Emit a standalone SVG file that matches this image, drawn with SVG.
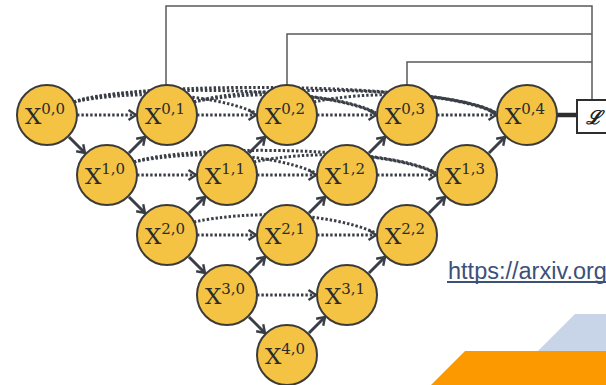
<svg xmlns="http://www.w3.org/2000/svg" width="606" height="385" viewBox="0 0 606 385">
<style>
.node circle{fill:#F5C344;stroke:#3b3b3b;stroke-width:2}
.node text{font-family:"DejaVu Serif","Liberation Serif",serif;font-size:23px;fill:#2b2b2b;text-anchor:middle}
.sup{font-size:15px}
.solid{stroke:#3a3f47;stroke-width:3;fill:none;marker-end:url(#arr)}
.dot{stroke:#3a3f47;stroke-width:3;fill:none;stroke-dasharray:2.4 2}
.dota{stroke:#3a3f47;stroke-width:3;fill:none;stroke-dasharray:2.4 2;marker-end:url(#arr)}
.fb{stroke:#5a5a5a;stroke-width:1.5;fill:none}
</style>
<defs>
<marker id="arr" markerUnits="userSpaceOnUse" viewBox="0 0 10 12" refX="9" refY="6" markerWidth="10" markerHeight="12" orient="auto">
<path d="M1.5,1 L9,6 L1.5,11" fill="none" stroke="#3a3f47" stroke-width="2.4" stroke-dasharray="none"/>
</marker>
</defs>
<rect width="606" height="385" fill="#ffffff"/>
<g id="background-shapes">
<polygon points="575,314 606,314 606,351 538,351" fill="#C8D4E8"/>
<polygon points="465,351 606,351 606,385 431,385" fill="#FD9900"/>
</g>
<g id="connectors">
<path class="fb" d="M166,85 V6 H592 V100"/>
<path class="fb" d="M287,85 V34 H592"/>
<path class="fb" d="M407,85 V62 H592"/>
<path d="M557,115 H577" stroke="#2e2e2e" stroke-width="4.5"/>
<path class="dot" d="M74,102 C124,91 206,91 256,113"/>
<path class="dot" d="M74,102 C124,85 326,85 376,113"/>
<path class="dot" d="M74,102 C124,81 446,81 496,113"/>
<path class="dot" d="M194,102 C244,91 326,91 376,113"/>
<path class="dot" d="M194,102 C244,85 446,85 496,113"/>
<path class="dot" d="M314,102 C364,91 446,91 496,113"/>
<path class="dot" d="M134,162 C184,151 266,151 316,173"/>
<path class="dot" d="M134,162 C184,145 386,145 436,173"/>
<path class="dot" d="M254,162 C304,151 386,151 436,173"/>
<path class="dot" d="M194,222 C244,211 326,211 376,233"/>
<path class="dota" d="M77,115 H136"/>
<path class="dota" d="M197,115 H256"/>
<path class="dota" d="M317,115 H376"/>
<path class="dota" d="M437,115 H496"/>
<path class="dota" d="M137,175 H196"/>
<path class="dota" d="M257,175 H316"/>
<path class="dota" d="M377,175 H436"/>
<path class="dota" d="M197,235 H256"/>
<path class="dota" d="M317,235 H376"/>
<path class="dota" d="M257,295 H316"/>
<path class="solid" d="M69,137 L85,153"/>
<path class="solid" d="M129,197 L145,213"/>
<path class="solid" d="M189,257 L205,273"/>
<path class="solid" d="M249,317 L265,333"/>
<path class="solid" d="M129,153 L145,137"/>
<path class="solid" d="M249,153 L265,137"/>
<path class="solid" d="M369,153 L385,137"/>
<path class="solid" d="M489,153 L505,137"/>
<path class="solid" d="M189,213 L205,197"/>
<path class="solid" d="M309,213 L325,197"/>
<path class="solid" d="M429,213 L445,197"/>
<path class="solid" d="M249,273 L265,257"/>
<path class="solid" d="M369,273 L385,257"/>
<path class="solid" d="M309,333 L325,317"/>
</g>
<g id="n00" class="node"><circle cx="47" cy="115" r="30"/><text x="45" y="124">X<tspan class="sup" dy="-10">0,0</tspan></text></g>
<g id="n01" class="node"><circle cx="167" cy="115" r="30"/><text x="165" y="124">X<tspan class="sup" dy="-10">0,1</tspan></text></g>
<g id="n02" class="node"><circle cx="287" cy="115" r="30"/><text x="285" y="124">X<tspan class="sup" dy="-10">0,2</tspan></text></g>
<g id="n03" class="node"><circle cx="407" cy="115" r="30"/><text x="405" y="124">X<tspan class="sup" dy="-10">0,3</tspan></text></g>
<g id="n04" class="node"><circle cx="527" cy="115" r="30"/><text x="525" y="124">X<tspan class="sup" dy="-10">0,4</tspan></text></g>
<g id="n10" class="node"><circle cx="107" cy="175" r="30"/><text x="105" y="184">X<tspan class="sup" dy="-10">1,0</tspan></text></g>
<g id="n11" class="node"><circle cx="227" cy="175" r="30"/><text x="225" y="184">X<tspan class="sup" dy="-10">1,1</tspan></text></g>
<g id="n12" class="node"><circle cx="347" cy="175" r="30"/><text x="345" y="184">X<tspan class="sup" dy="-10">1,2</tspan></text></g>
<g id="n13" class="node"><circle cx="467" cy="175" r="30"/><text x="465" y="184">X<tspan class="sup" dy="-10">1,3</tspan></text></g>
<g id="n20" class="node"><circle cx="167" cy="235" r="30"/><text x="165" y="244">X<tspan class="sup" dy="-10">2,0</tspan></text></g>
<g id="n21" class="node"><circle cx="287" cy="235" r="30"/><text x="285" y="244">X<tspan class="sup" dy="-10">2,1</tspan></text></g>
<g id="n22" class="node"><circle cx="407" cy="235" r="30"/><text x="405" y="244">X<tspan class="sup" dy="-10">2,2</tspan></text></g>
<g id="n30" class="node"><circle cx="227" cy="295" r="30"/><text x="225" y="304">X<tspan class="sup" dy="-10">3,0</tspan></text></g>
<g id="n31" class="node"><circle cx="347" cy="295" r="30"/><text x="345" y="304">X<tspan class="sup" dy="-10">3,1</tspan></text></g>
<g id="n40" class="node"><circle cx="287" cy="355" r="30"/><text x="285" y="364">X<tspan class="sup" dy="-10">4,0</tspan></text></g>
<g id="loss">
<rect x="577" y="100" width="40" height="33" fill="#ffffff" stroke="#2e2e2e" stroke-width="2"/>
<text x="594" y="124" font-family="DejaVu Serif, serif" font-style="italic" font-weight="bold" font-size="19" fill="#222" text-anchor="middle">ℒ</text>
</g>
<g id="link">
<text x="448" y="279" font-family="Liberation Sans, Arial, sans-serif" font-size="23.5" fill="#3d5078">https://arxiv.org</text>
<rect x="447" y="281" width="160" height="2" fill="#3d5078"/>
</g>
</svg>
